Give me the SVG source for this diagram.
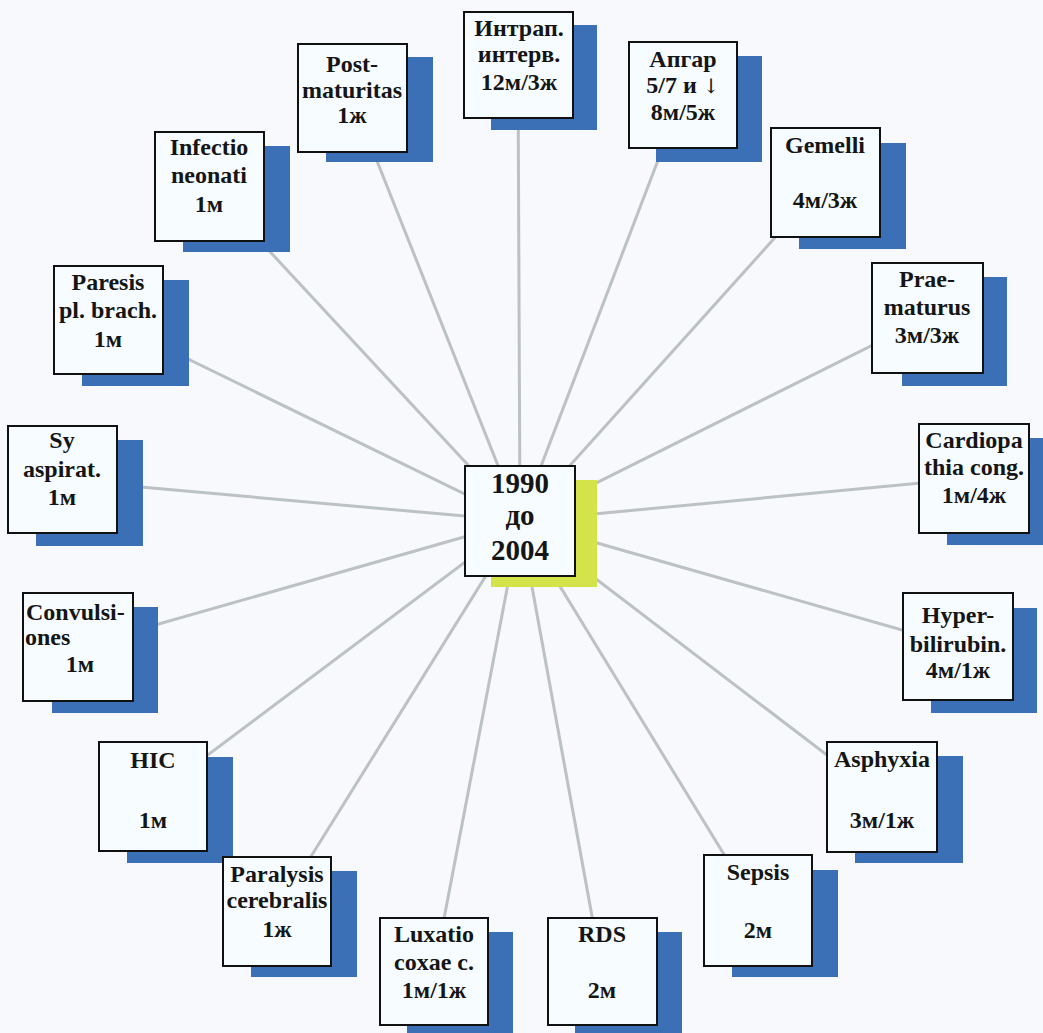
<svg xmlns="http://www.w3.org/2000/svg" width="1043" height="1033" viewBox="0 0 1043 1033">
  <style>
    .bg { fill: #f7f9fc; }
    .link { stroke: #bcc1c5; stroke-width: 3; fill: none; }
    .shadow { fill: #3b70b7; }
    .shadow-hub { fill: #d3e44a; }
    .box { fill: #f6fcff; stroke: #111; stroke-width: 2; }
    .t { font-family: "Liberation Serif", "Times New Roman", serif; font-weight: bold; font-size: 24px; fill: #151515; text-anchor: middle; }
    .tl { text-anchor: start; }
    .hub { font-size: 29px; }
    .sym { font-family: "DejaVu Serif", "DejaVu Sans", serif; font-weight: normal; font-size: 20px; }
  </style>

  <rect class="bg" x="0" y="0" width="1043" height="1033"/>

  <!-- spokes from the hub centre to each node centre -->
  <g id="connectors">
    <line class="link" x1="520" y1="521" x2="518" y2="65"/>
    <line class="link" x1="520" y1="521" x2="683" y2="95"/>
    <line class="link" x1="520" y1="521" x2="352" y2="98"/>
    <line class="link" x1="520" y1="521" x2="209" y2="186"/>
    <line class="link" x1="520" y1="521" x2="108" y2="320"/>
    <line class="link" x1="520" y1="521" x2="62" y2="480"/>
    <line class="link" x1="520" y1="521" x2="78" y2="647"/>
    <line class="link" x1="520" y1="521" x2="153" y2="796"/>
    <line class="link" x1="520" y1="521" x2="277" y2="911"/>
    <line class="link" x1="520" y1="521" x2="434" y2="971"/>
    <line class="link" x1="520" y1="521" x2="602" y2="971"/>
    <line class="link" x1="520" y1="521" x2="758" y2="910"/>
    <line class="link" x1="520" y1="521" x2="882" y2="797"/>
    <line class="link" x1="520" y1="521" x2="958" y2="646"/>
    <line class="link" x1="520" y1="521" x2="974" y2="478"/>
    <line class="link" x1="520" y1="521" x2="927" y2="318"/>
    <line class="link" x1="520" y1="521" x2="825" y2="182"/>
  </g>

  <!-- hub -->
  <g id="hub">
    <rect class="shadow-hub" x="491" y="480" width="106" height="107"/>
    <rect class="box" x="465" y="466" width="110" height="110"/>
    <text class="t hub" x="520" y="493">1990</text>
    <text class="t hub" x="520" y="525">до</text>
    <text class="t hub" x="520" y="560">2004</text>
  </g>

  <g id="intrap">
    <rect class="shadow" x="491" y="25" width="106" height="105"/>
    <rect class="box" x="464" y="12" width="109" height="106"/>
    <text class="t" x="519" y="36">Интрап.</text>
    <text class="t" x="519" y="62">интерв.</text>
    <text class="t" x="519" y="90">12м/3ж</text>
  </g>

  <g id="apgar">
    <rect class="shadow" x="656" y="56" width="106" height="106"/>
    <rect class="box" x="629" y="42" width="108" height="106"/>
    <text class="t" x="683" y="67">Апгар</text>
    <text class="t" x="683" y="93">5/7 и <tspan class="sym">↓</tspan></text>
    <text class="t" x="683" y="120">8м/5ж</text>
  </g>

  <g id="postmaturitas">
    <rect class="shadow" x="326" y="57" width="107" height="105"/>
    <rect class="box" x="298" y="44" width="109" height="108"/>
    <text class="t" x="352" y="72">Post-</text>
    <text class="t" x="352" y="98">maturitas</text>
    <text class="t" x="352" y="123">1ж</text>
  </g>

  <g id="infectio">
    <rect class="shadow" x="183" y="146" width="107" height="106"/>
    <rect class="box" x="155" y="132" width="109" height="109"/>
    <text class="t" x="209" y="155">Infectio</text>
    <text class="t" x="209" y="183">neonati</text>
    <text class="t" x="209" y="212">1м</text>
  </g>

  <g id="paresis">
    <rect class="shadow" x="82" y="280" width="107" height="106"/>
    <rect class="box" x="54" y="266" width="109" height="108"/>
    <text class="t" x="108" y="290">Paresis</text>
    <text class="t" x="108" y="318">pl. brach.</text>
    <text class="t" x="108" y="347">1м</text>
  </g>

  <g id="sy-aspirat">
    <rect class="shadow" x="36" y="440" width="107" height="106"/>
    <rect class="box" x="8" y="426" width="109" height="107"/>
    <text class="t" x="62" y="448">Sy</text>
    <text class="t" x="62" y="477">aspirat.</text>
    <text class="t" x="62" y="505">1м</text>
  </g>

  <g id="convulsiones">
    <rect class="shadow" x="52" y="607" width="106" height="106"/>
    <rect class="box" x="23" y="593" width="110" height="108"/>
    <text class="t tl" x="26" y="620">Convulsi-</text>
    <text class="t tl" x="25" y="645">ones</text>
    <text class="t" x="80" y="672">1м</text>
  </g>

  <g id="hic">
    <rect class="shadow" x="127" y="757" width="106" height="106"/>
    <rect class="box" x="99" y="742" width="108" height="109"/>
    <text class="t" x="153" y="768">HIC</text>
    <text class="t" x="153" y="828">1м</text>
  </g>

  <g id="paralysis">
    <rect class="shadow" x="251" y="871" width="106" height="106"/>
    <rect class="box" x="223" y="857" width="108" height="109"/>
    <text class="t" x="277" y="882">Paralysis</text>
    <text class="t" x="277" y="908">cerebralis</text>
    <text class="t" x="277" y="937">1ж</text>
  </g>

  <g id="luxatio">
    <rect class="shadow" x="407" y="932" width="106" height="107"/>
    <rect class="box" x="380" y="918" width="108" height="107"/>
    <text class="t" x="434" y="942">Luxatio</text>
    <text class="t" x="434" y="970">coxae c.</text>
    <text class="t" x="434" y="998">1м/1ж</text>
  </g>

  <g id="rds">
    <rect class="shadow" x="575" y="932" width="107" height="107"/>
    <rect class="box" x="548" y="918" width="109" height="107"/>
    <text class="t" x="602" y="942">RDS</text>
    <text class="t" x="602" y="998">2м</text>
  </g>

  <g id="sepsis">
    <rect class="shadow" x="732" y="870" width="106" height="107"/>
    <rect class="box" x="704" y="855" width="108" height="111"/>
    <text class="t" x="758" y="880">Sepsis</text>
    <text class="t" x="758" y="938">2м</text>
  </g>

  <g id="asphyxia">
    <rect class="shadow" x="855" y="756" width="108" height="107"/>
    <rect class="box" x="827" y="742" width="110" height="110"/>
    <text class="t" x="882" y="767">Asphyxia</text>
    <text class="t" x="882" y="828">3м/1ж</text>
  </g>

  <g id="hyperbilirubin">
    <rect class="shadow" x="931" y="608" width="106" height="105"/>
    <rect class="box" x="903" y="593" width="110" height="107"/>
    <text class="t" x="958" y="623">Hyper-</text>
    <text class="t" x="958" y="652">bilirubin.</text>
    <text class="t" x="958" y="678">4м/1ж</text>
  </g>

  <g id="cardiopathia">
    <rect class="shadow" x="947" y="438" width="108" height="107"/>
    <rect class="box" x="919" y="424" width="110" height="109"/>
    <text class="t" x="974" y="448">Cardiopa</text>
    <text class="t" x="974" y="475">thia cong.</text>
    <text class="t" x="974" y="503">1м/4ж</text>
  </g>

  <g id="praematurus">
    <rect class="shadow" x="902" y="277" width="105" height="109"/>
    <rect class="box" x="872" y="263" width="111" height="110"/>
    <text class="t" x="927" y="287">Prae-</text>
    <text class="t" x="927" y="315">maturus</text>
    <text class="t" x="927" y="343">3м/3ж</text>
  </g>

  <g id="gemelli">
    <rect class="shadow" x="799" y="143" width="107" height="106"/>
    <rect class="box" x="771" y="128" width="109" height="109"/>
    <text class="t" x="825" y="153">Gemelli</text>
    <text class="t" x="825" y="208">4м/3ж</text>
  </g>
</svg>
